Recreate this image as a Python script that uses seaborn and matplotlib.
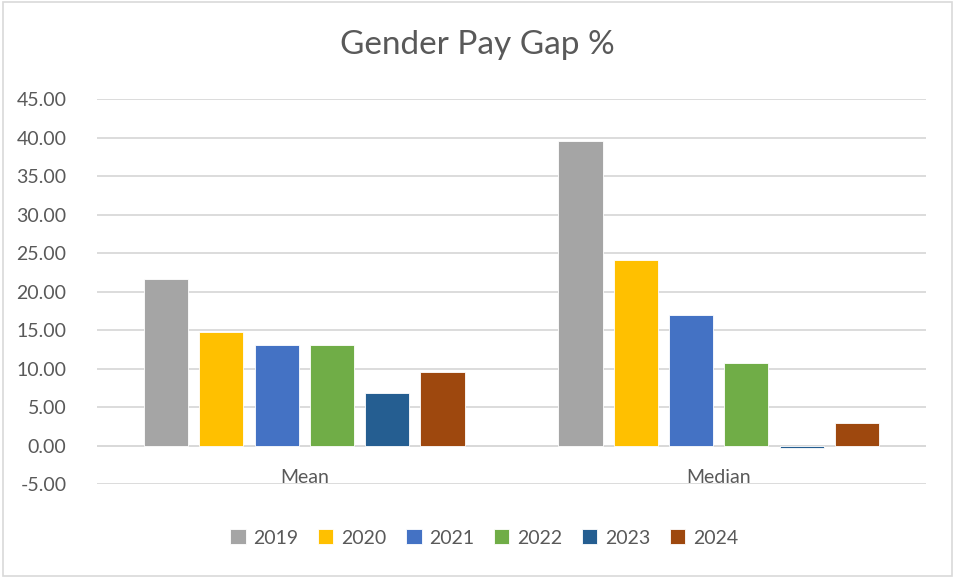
import pandas as pd
import seaborn as sns
import matplotlib.pyplot as plt
from matplotlib.patches import Rectangle

# datos
categorias = ['Mean', 'Median']
anios = ['2019', '2020', '2021', '2022', '2023', '2024']
media = [21.6, 14.8, 13.0, 13.0, 6.8, 9.5]
mediana = [39.6, 24.1, 17.0, 10.7, -0.3, 2.9]
colores = ['#A5A5A5', '#FFC000', '#4472C4', '#70AD47', '#255E91', '#9E480E']
ticks_y = [-5, 0, 5, 10, 15, 20, 25, 30, 35, 40, 45]

df = pd.DataFrame({
    'cat': ['Mean'] * len(anios) + ['Median'] * len(anios),
    'anio': anios + anios,
    'gap': media + mediana,
})

sns.set_style('white')
plt.rcParams['font.family'] = ['Lato', 'DejaVu Sans']
gris = '#595959'

fig = plt.figure(figsize=(9.55, 5.78), dpi=100)
ax = fig.add_axes([0.1016, 0.1626, 0.868, 0.6661])

sns.barplot(data=df, x='cat', y='gap', hue='anio', hue_order=anios,
            palette=dict(zip(anios, colores)), order=categorias,
            width=0.8, gap=0.2, ax=ax, saturation=1, errorbar=None,
            edgecolor='white', linewidth=0.6)

ax.set_ylim(-5, 45)
ax.set_yticks(ticks_y)
ax.set_yticklabels([f'{v:.2f}' for v in ticks_y], color=gris, fontsize=14)
ax.tick_params(axis='y', length=0, pad=22)
ax.yaxis.grid(True, color='#D9D9D9', linewidth=1.3)
ax.set_axisbelow(True)
ax.axhline(0, color='#D9D9D9', linewidth=1.3, zorder=0.5)
for s in ax.spines.values():
    s.set_visible(False)

ax.set_xticks([])
ax.set_xlabel('')
ax.set_ylabel('')
for i, c in enumerate(categorias):
    ax.text(i, -4.2, c, ha='center', va='center', color=gris, fontsize=14)

fig.suptitle('Gender Pay Gap %', color=gris, fontsize=24, x=0.5, y=0.922, va='center')

sns.move_legend(ax, 'center', bbox_to_anchor=(0.467, -0.14), ncol=6,
                frameon=False, title=None, fontsize=14,
                handlelength=0.8, handleheight=0.8, handletextpad=0.4,
                columnspacing=1.0, labelcolor=gris)

# borde del area del grafico
fig.patches.append(Rectangle((0.003, 0.004), 0.994, 0.992, transform=fig.transFigure,
                             fill=False, edgecolor='#D9D9D9', linewidth=1.2))

fig.savefig('out.png', dpi=100)
